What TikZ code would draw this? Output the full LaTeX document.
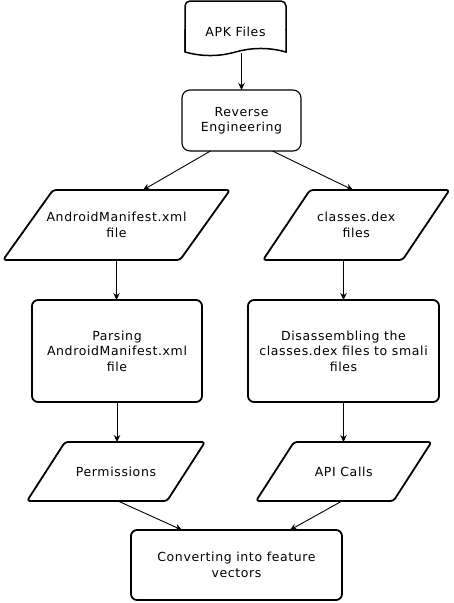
\documentclass[tikz,border=0pt]{standalone}
\usepackage{fontspec}
\setmainfont{DejaVu Sans}[LetterSpace=5]
\usetikzlibrary{arrows.meta,calc}
\begin{document}
\begin{tikzpicture}[x=1pt,y=-1pt,
  lbl/.style={draw=none,inner sep=0pt,outer sep=0pt,align=center,
    font=\fontsize{12.5}{15.5}\selectfont},
  thickline/.style={line width=1.8pt,line join=round},
  thinbox/.style={lbl,draw,line width=1.1pt,rounded corners=8pt},
  bigbox/.style={lbl,draw,line width=1.8pt,rounded corners=6pt},
  arr/.style={line width=0.9pt,-{Stealth[length=7pt,width=6.5pt]}}]
\useasboundingbox (0,0) rectangle (453,603);

% APK Files document
\node[lbl,minimum width=101pt,minimum height=62pt] (apk) at (235.5,32) {APK Files};
\draw[line width=1.5pt,rounded corners=5pt] (185,52) -- (185,1) -- (286,1) -- (286,30);
\draw[line width=1.5pt] (286,29) -- (286,52) .. controls (269.2,47.3) and (252.3,47.3) .. (235.5,52)
  .. controls (218.7,56.7) and (201.8,56.7) .. (185,52) -- (185,29);

% Reverse Engineering
\node[thinbox,minimum width=119pt,minimum height=61pt] (rev) at (241.5,120.5) {Reverse\\Engineering};

% Parallelograms
\node[lbl,minimum width=177pt,minimum height=70pt] (andr) at (116.5,225) {AndroidManifest.xml\\file};
\draw[thickline,rounded corners=3pt] ($(andr.south west)+(-25,0)$) -- ($(andr.north west)+(25,0)$)
  -- ($(andr.north east)+(25,0)$) -- ($(andr.south east)+(-25,0)$) -- cycle;

\node[lbl,minimum width=139.5pt,minimum height=70pt] (dex) at (356.25,225) {classes.dex\\files};
\draw[thickline,rounded corners=3pt] ($(dex.south west)+(-23.5,0)$) -- ($(dex.north west)+(23.5,0)$)
  -- ($(dex.north east)+(23.5,0)$) -- ($(dex.south east)+(-23.5,0)$) -- cycle;

% Processing boxes
\node[bigbox,minimum width=170pt,minimum height=102pt] (parse) at (117,351) {Parsing\\AndroidManifest.xml\\file};
\node[bigbox,minimum width=191pt,minimum height=102pt] (dis) at (343.5,351) {Disassembling the\\classes.dex files to smali\\files};

% Output parallelograms
\node[lbl,minimum width=140pt,minimum height=59pt] (perm) at (116,471.5) {Permissions};
\draw[thickline,rounded corners=3pt] ($(perm.south west)+(-19,0)$) -- ($(perm.north west)+(19,0)$)
  -- ($(perm.north east)+(19,0)$) -- ($(perm.south east)+(-19,0)$) -- cycle;

\node[lbl,minimum width=137.5pt,minimum height=59pt] (api) at (343.75,471.5) {API Calls};
\draw[thickline,rounded corners=3pt] ($(api.south west)+(-19,0)$) -- ($(api.north west)+(19,0)$)
  -- ($(api.north east)+(19,0)$) -- ($(api.south east)+(-19,0)$) -- cycle;

% Converting
\node[bigbox,minimum width=211pt,minimum height=70pt] (conv) at (236.5,565) {Converting into feature\\vectors};

% Connectors
\draw[arr] ($(apk.south)+(6,-10)$) -- (rev.north);
\draw[arr] ($(rev.south)+(-31,0)$) -- ($(andr.north)+(26.5,0)$);
\draw[arr] ($(rev.south)+(31,0)$) -- ($(dex.north)+(-3.25,0)$);
\draw[arr] (andr.south) -- (andr.south |- parse.north);
\draw[arr] (dis.north |- dex.south) -- (dis.north);
\draw[arr] (parse.south) -- (parse.south |- perm.north);
\draw[arr] (dis.south) -- (dis.south |- api.north);
\draw[arr] ($(perm.south)+(2,0)$) -- ($(conv.north)+(-54.5,0)$);
\draw[arr] ($(api.south)+(-1.75,0)$) -- ($(conv.north)+(53.5,0)$);
\end{tikzpicture}
\end{document}
